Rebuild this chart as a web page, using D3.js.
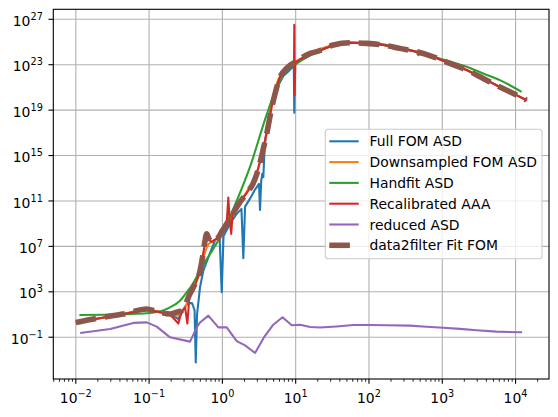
<!DOCTYPE html>
<html>
<head>
<meta charset="utf-8">
<script src="https://cdn.jsdelivr.net/npm/d3@7"></script>
<style>
  body { margin: 0; background: #fff; }
  text { font-family: "DejaVu Sans", sans-serif; fill: #000; }
</style>
</head>
<body>
<script>
// ---- data ----
  // Full FOM ASD
  var fullFreq = [0.01, 0.0446, 0.0929, 0.127, 0.193, 0.251, 0.282, 0.31, 0.343, 0.385,
    0.417, 0.433, 0.451, 0.495, 0.55, 0.643, 0.794, 0.914, 0.979, 1.036,
    1.27, 1.535, 1.82, 1.93, 2.04, 2.38, 2.79, 3.16, 3.26, 3.39,
    3.51, 3.62, 3.76, 4.02, 4.71, 5.51, 6.78, 7.93, 9.42, 9.57,
    9.72, 10.3, 15.7, 32.6, 55, 93, 157, 265, 447, 465,
    473, 481, 753, 1270, 2150, 3620, 6110, 10300, 14100];
  var fullAsd = [2.0, 11.2, 29.5, 19.1, 11.2, 4.0, 15.8, 50, 100, 100,
    25, 6e-4, 10, 2500, 7.4e4, 1.1e6, 3.4e7, 1e8, 912, 8e7,
    1e9, 6.3e9, 2e10, 8.9e5, 3.2e10, 1.6e11, 1e12, 3.2e12, 1.6e10, 6.3e12,
    2.5e13, 1.26e13, 3.2e15, 3.2e17, 4e19, 8e20, 1e22, 2.5e22, 8e22, 5.8e18,
    1e23, 1.6e23, 1e24, 5.4e24, 8.5e24, 7.6e24, 5.4e24, 2.75e24, 1.4e24, 1.3e24,
    7e23, 1.2e24, 5e23, 1.3e23, 3.4e22, 6.2e21, 1.1e21, 2.1e20, 7.6e19];

  // Downsampled FOM ASD
  var dsFreq = [0.01, 0.0446, 0.0929, 0.127, 0.193, 0.251, 0.279, 0.31, 0.343, 0.382,
    0.424, 0.47, 0.522, 0.579, 0.643, 0.716, 0.881, 1.0, 1.146, 1.41,
    1.74, 2.38, 2.94, 3.44, 4.24, 4.95, 5.8, 7.54, 10.3, 15.7,
    32.6, 55, 93, 157, 265, 447, 753, 1270, 2150, 3620,
    6110, 10300, 14100];
  var dsAsd = [2, 11, 30, 19, 11, 8, 20, 40, 250, 1200,
    5000, 2e4, 3e5, 3e6, 1.5e7, 2.5e7, 6e7, 2.5e8, 1e9, 7e9,
    8e10, 2e12, 3e13, 1e15, 5e17, 2e20, 5e21, 4e22, 2e23, 1e24,
    5.4e24, 8.5e24, 7.6e24, 5.4e24, 2.75e24, 1.4e24, 5e23, 1.3e23, 3.4e22, 6.2e21,
    1.1e21, 2.1e20, 7.6e19];

  // Handfit ASD
  var handFreq = [0.0112, 0.0294, 0.103, 0.193, 0.264, 0.327, 0.382, 0.495, 0.753, 1.03,
    1.41, 2.38, 4.02, 5.22, 6.78, 10.3, 19.4, 55, 93, 265,
    753, 2150, 3620, 6110, 12100];
  var handAsd = [9.1, 10, 13.8, 43, 166, 912, 3550, 7.9e4, 6.3e6, 2e8,
    2e10, 1e14, 4e18, 4e20, 1.26e22, 1.26e23, 1.26e24, 8.9e24, 8.9e24, 3.2e24,
    5e23, 6.6e22, 1.7e22, 4.4e21, 4.1e20];

  // Recalibrated AAA
  var aaaFreq = [0.01, 0.0446, 0.0929, 0.127, 0.193, 0.251, 0.264, 0.282, 0.31, 0.333,
    0.352, 0.385, 0.424, 0.47, 0.522, 0.579, 0.611, 0.643, 0.716, 0.881,
    1.0, 1.146, 1.205, 1.25, 1.32, 1.37, 1.49, 1.74, 2.15, 2.65,
    3.09, 3.62, 4.02, 4.71, 5.51, 6.11, 7.54, 9.5, 9.57, 9.66,
    9.9, 10.3, 15.7, 19.4, 32.6, 55, 93, 157, 265, 447,
    753, 1270, 2150, 3620, 6110, 10300, 14400];
  var aaaAsd = [2.0, 11, 28, 18, 10, 1.6, 5.8, 22, 40, 1.6,
    200, 1260, 4000, 2.5e4, 4e5, 2e7, 8e7, 4e7, 2.5e7, 6.3e7,
    2.5e8, 1.26e9, 2e11, 3e9, 1.26e8, 5e9, 1.6e10, 8e10, 5e11, 4e12,
    8e13, 5e15, 1e17, 2e19, 1.2e21, 9e21, 5e22, 1.3e23, 3.2e26, 2e20,
    1.6e23, 2e23, 1e24, 1.4e24, 5.4e24, 8.5e24, 7.6e24, 5.4e24, 2.75e24, 1.4e24,
    5e23, 1.3e23, 3.4e22, 6.2e21, 1.1e21, 2.1e20, 7e19];

  // reduced ASD
  var reducedFreq = [0.01146, 0.0294, 0.061, 0.0929, 0.127, 0.193, 0.362, 0.447, 0.495, 0.643,
    0.881, 1.146, 1.57, 2.04, 2.79, 3.70, 4.95, 6.61, 8.83, 11.5,
    15.7, 21.5, 36.2, 61.1, 103, 174, 362, 611, 1030, 1740,
    2940, 5500, 12300];
  var reducedAsd = [0.234, 0.537, 1.82, 2.04, 0.85, 0.098, 0.041, 0.74, 2.0, 7.9,
    0.74, 0.74, 0.046, 0.019, 0.0041, 0.1, 1.26, 5.75, 1.12, 1.26,
    0.79, 0.71, 0.89, 1.2, 1.2, 1.12, 1.05, 0.85, 0.69, 0.54,
    0.41, 0.31, 0.27];

  // data2filter Fit FOM
  var fitFreq = [0.01, 0.0238, 0.0446, 0.0929, 0.127, 0.193, 0.238, 0.279, 0.31, 0.343,
    0.382, 0.424, 0.47, 0.522, 0.579, 0.611, 0.643, 0.716, 0.794, 0.881,
    1.0, 1.146, 1.27, 1.49, 1.74, 2.15, 2.65, 3.09, 3.62, 4.02,
    4.71, 5.51, 6.11, 7.54, 10.3, 15.7, 19.4, 32.6, 55, 93,
    157, 265, 447, 753, 1270, 2150, 3620, 6110, 10300, 14100];
  var fitAsd = [2.0, 5.8, 11, 31, 19, 11, 16, 22, 60, 330,
    1300, 5000, 1.9e4, 4e5, 3e7, 1.3e8, 6e7, 2.3e7, 4e7, 6.3e7,
    2.5e8, 1e9, 3.2e9, 1.6e10, 8e10, 5e11, 4e12, 6.3e13, 4e15, 8e16,
    1.6e19, 1e21, 8e21, 5e22, 2e23, 1e24, 1.4e24, 5.4e24, 8.5e24, 7.6e24,
    5.4e24, 2.75e24, 1.4e24, 5e23, 1.3e23, 3.4e22, 6.2e21, 1.1e21, 2.1e20, 7.6e19];

  var xTickExp = [-2, -1, 0, 1, 2, 3, 4];
  var yTickExp = [-1, 3, 7, 11, 15, 19, 23, 27];

  var series = [
    {name: "Full FOM ASD", f: fullFreq, a: fullAsd, color: "#1f77b4"},
    {name: "Downsampled FOM ASD", f: dsFreq, a: dsAsd, color: "#ff7f0e", smooth: true},
    {name: "Handfit ASD", f: handFreq, a: handAsd, color: "#2ca02c", smooth: true},
    {name: "Recalibrated AAA", f: aaaFreq, a: aaaAsd, color: "#d62728"},
    {name: "reduced ASD", f: reducedFreq, a: reducedAsd, color: "#9467bd"},
    {name: "data2filter Fit FOM", f: fitFreq, a: fitAsd, color: "#8c564b", smooth: true, dashed: true}
  ];

// ---- layout ----
  var width_outer = 558, height_outer = 417;
  var margin = {top: 9.3, left: 53.3};
  var width = 495.7, height = 369.7;
  var lw = 2.08, fitLw = 5.56;

  var svg = d3.select("body").append("svg")
    .attr("width", width_outer)
    .attr("height", height_outer);
  svg.append("rect").attr("width", width_outer).attr("height", height_outer).attr("fill", "#fff");

  var g = svg.append("g")
    .attr("transform", "translate(" + margin.left + "," + margin.top + ")");

  var x = d3.scaleLog().domain([4.93e-3, 2.86e4]).range([0, width]);
  var y = d3.scaleLog().domain([2.09e-5, 7.59e27]).range([height, 0]);

  g.append("clipPath").attr("id", "clip")
    .append("rect").attr("width", width).attr("height", height);

  // grid
  g.selectAll(".gx").data(xTickExp).enter().append("line")
    .attr("x1", function(e) { return x(Math.pow(10, e)); })
    .attr("x2", function(e) { return x(Math.pow(10, e)); })
    .attr("y1", 0).attr("y2", height)
    .attr("stroke", "#b0b0b0").attr("stroke-width", 1.1);
  g.selectAll(".gy").data(yTickExp).enter().append("line")
    .attr("y1", function(e) { return y(Math.pow(10, e)); })
    .attr("y2", function(e) { return y(Math.pow(10, e)); })
    .attr("x1", 0).attr("x2", width)
    .attr("stroke", "#b0b0b0").attr("stroke-width", 1.1);

  // lines
  var lines = g.append("g").attr("clip-path", "url(#clip)");
  series.forEach(function(s) {
    var pts = s.f.map(function(v, i) { return [v, s.a[i]]; });
    var line = d3.line()
      .x(function(d) { return x(d[0]); })
      .y(function(d) { return y(d[1]); })
      .curve(s.smooth ? d3.curveMonotoneX : d3.curveLinear);
    var p = lines.append("path")
      .datum(pts)
      .attr("d", line)
      .attr("fill", "none")
      .attr("stroke", s.color)
      .attr("stroke-width", s.dashed ? fitLw : lw)
      .attr("stroke-linejoin", "round");
    if (s.dashed) p.attr("stroke-dasharray", "20.6,8.9");
  });

  // axes frame and ticks
  g.append("rect").attr("width", width).attr("height", height)
    .attr("fill", "none").attr("stroke", "#000").attr("stroke-width", 1.1);

  function powLabel(t, e) {
    t.append("tspan").text("10");
    t.append("tspan").attr("dy", -6).attr("font-size", 9.7)
      .text(e < 0 ? "\u2212" + (-e) : String(e));
  }

  xTickExp.forEach(function(e) {
    var px = x(Math.pow(10, e));
    g.append("line").attr("x1", px).attr("x2", px).attr("y1", height).attr("y2", height + 4.86)
      .attr("stroke", "#000").attr("stroke-width", 1.1);
    var t = g.append("text").attr("x", px).attr("y", height + 24.3)
      .attr("text-anchor", "middle").attr("font-size", 13.9);
    powLabel(t, e);
  });

  // x minor ticks
  var minor = [];
  for (var d = -3; d <= 4; d++) {
    for (var m = 2; m <= 9; m++) {
      var v = m * Math.pow(10, d);
      if (v > x.domain()[0] && v < x.domain()[1]) minor.push(v);
    }
  }
  g.selectAll(".mx").data(minor).enter().append("line")
    .attr("x1", function(v) { return x(v); }).attr("x2", function(v) { return x(v); })
    .attr("y1", height).attr("y2", height + 2.78)
    .attr("stroke", "#000").attr("stroke-width", 0.83);

  yTickExp.forEach(function(e) {
    var py = y(Math.pow(10, e));
    g.append("line").attr("x1", -4.86).attr("x2", 0).attr("y1", py).attr("y2", py)
      .attr("stroke", "#000").attr("stroke-width", 1.1);
    var t = g.append("text").attr("x", -10.5).attr("y", py + 6.7)
      .attr("text-anchor", "end").attr("font-size", 13.9);
    powLabel(t, e);
  });

// ---- legend ----
  var leg = svg.append("g");
  leg.append("rect")
    .attr("x", 325.3).attr("y", 129.3).attr("width", 216.7).attr("height", 129.4)
    .attr("rx", 2.8)
    .attr("fill", "#fff").attr("fill-opacity", 0.8)
    .attr("stroke", "#cccccc").attr("stroke-width", 1.1);
  series.forEach(function(s, i) {
    var cy = 141.3 + i * 20.8;
    var h = leg.append("line")
      .attr("x1", 329.3).attr("x2", 358.7).attr("y1", cy).attr("y2", cy)
      .attr("stroke", s.color)
      .attr("stroke-width", s.dashed ? fitLw : lw);
    if (s.dashed) h.attr("stroke-dasharray", "20.6,8.9");
    leg.append("text").attr("x", 369.5).attr("y", cy + 5)
      .attr("font-size", 13.9).text(s.name);
  });
</script>
</body>
</html>
